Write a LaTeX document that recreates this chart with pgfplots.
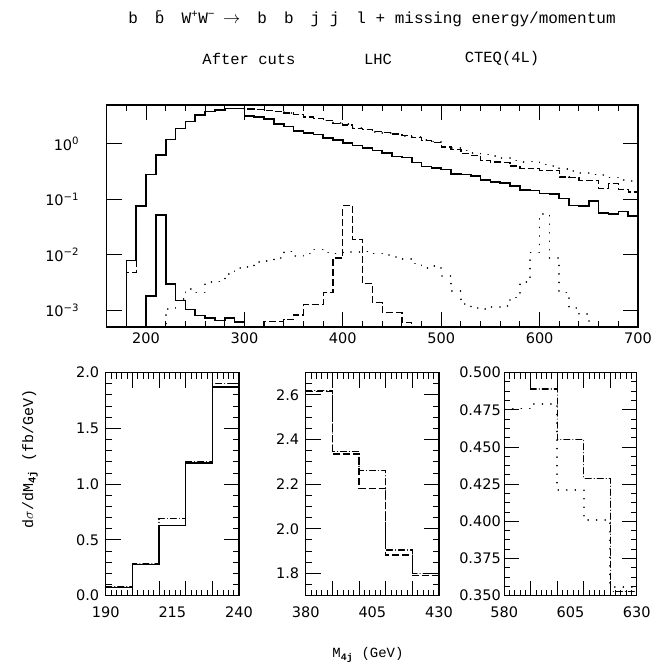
\documentclass[border=0pt]{standalone}
\usepackage{fontspec}
\setmainfont{Liberation Serif}
\newfontfamily\ticksf{DejaVu Sans}
\newfontfamily\ttf{Liberation Mono}
\usepackage{pgfplots}
\pgfplotsset{compat=1.18}
\pgfplotsset{
  hist/.style={axis line style={line width=1.3pt}, scale only axis, anchor=south west,
    /pgf/number format/assume math mode=true,
    tick style={black, line width=1pt},
    ticklabel style={font=\ticksf\fontsize{14.5}{16}\selectfont},
    major tick length=15pt, minor tick length=6pt, clip=true},
  sol/.style={const plot, black, line width=1.6pt, no marks},
  dsh/.style={const plot, black, line width=1.3pt, no marks, dash pattern=on 7pt off 3pt},
  dot/.style={const plot, black, line width=1.7pt, no marks, dash pattern=on 0.01pt off 8.5pt, line cap=round},
  dd/.style={const plot, black, line width=1.2pt, no marks, dash pattern=on 6pt off 3pt on 0.01pt off 3pt, line cap=round},
}
\begin{document}
\begin{tikzpicture}
\path[use as bounding box] (0pt,0pt) rectangle (671pt,671pt);
% ---------------- top panel
\begin{axis}[hist, at={(106.7pt,344pt)}, width=531.3pt, height=222pt,
  xmin=160, xmax=700, ymode=log, ymin=5e-4, ymax=5,
  xtick={200,300,400,500,600,700}, minor xtick={160,180,...,700},
  xticklabels={200,300,400,500,600,700},
  xticklabel style={yshift=-2pt},
  ytick={1e-3,1e-2,1e-1,1},
  yticklabels={10\textsuperscript{−3},10\textsuperscript{−2},10\textsuperscript{−1},10\textsuperscript{0}},
  yticklabel style={xshift=-24pt},
  log basis y=10]
\addplot[sol] coordinates {(180,1e-6)(180,0.0079)(190,0.075)(200,0.28)(210,0.63)(220,1.19)(230,1.87)(240,2.54)(250,3.34)(260,3.8)(270,4.1)(280,4.3)(290,4.35)(300,3.2)(310,3.05)(320,2.8)(330,2.3)(340,2.04)(350,1.68)(360,1.55)(370,1.48)(380,1.26)(390,1.18)(400,1.03)(410,0.93)(420,0.85)(430,0.76)(440,0.68)(450,0.59)(460,0.565)(470,0.457)(480,0.39)(490,0.37)(500,0.343)(510,0.285)(520,0.28)(530,0.26)(540,0.22)(550,0.205)(560,0.195)(570,0.172)(580,0.148)(590,0.144)(600,0.128)(610,0.126)(620,0.104)(630,0.077)(640,0.076)(650,0.094)(660,0.056)(670,0.054)(680,0.06)(690,0.05)(700,0.05)};
\addplot[dsh] coordinates {(180,1e-6)(180,0.0048)(190,0.075)(200,0.28)(210,0.63)(220,1.19)(230,1.87)(240,2.54)(250,3.34)(260,3.8)(270,4.1)(280,4.3)(290,4.35)(300,4.25)(310,4.15)(320,4.0)(330,3.8)(340,3.6)(350,3.35)(360,3.05)(370,2.85)(380,2.615)(390,2.335)(400,2.18)(410,1.883)(420,1.79)(430,1.65)(440,1.58)(450,1.5)(460,1.4)(470,1.3)(480,1.15)(490,1.07)(500,0.87)(510,0.8)(520,0.66)(530,0.62)(540,0.5)(550,0.47)(560,0.46)(570,0.4)(580,0.357)(590,0.36)(600,0.333)(610,0.333)(620,0.253)(630,0.25)(640,0.22)(650,0.22)(660,0.157)(670,0.192)(680,0.15)(690,0.136)(700,0.136)};
\addplot[dot] coordinates {(300,4.25)(310,4.15)(320,4.0)(330,3.8)(340,3.6)(350,3.35)(360,3.05)(370,2.85)(380,2.62)(390,2.345)(400,2.26)(410,1.905)(420,1.80)(430,1.65)(440,1.58)(450,1.5)(460,1.4)(470,1.32)(480,1.18)(490,1.1)(500,0.88)(510,0.83)(520,0.76)(530,0.68)(540,0.64)(550,0.6)(560,0.55)(570,0.5)(580,0.476)(590,0.479)(600,0.421)(610,0.401)(620,0.356)(630,0.32)(640,0.3)(650,0.28)(660,0.27)(670,0.246)(680,0.22)(690,0.215)(700,0.215)};
\addplot[sol] coordinates {(200,1e-6)(200,0.0018)(210,0.052)(220,0.003)(230,0.0015)(240,0.00104)(250,0.0008)(260,0.00072)(270,0.00066)(280,0.00072)(290,0.00062)(300,1e-6)};
\addplot[dsh] coordinates {(320,1e-6)(320,0.00062)(340,0.00068)(350,0.00082)(360,0.00128)(380,0.0021)(390,0.0087)(400,0.077)(410,0.0186)(420,0.003)(430,0.00137)(440,0.00091)(460,0.0006)(470,1e-6)};
\addplot[dot] coordinates {(220,1e-6)(220,0.00107)(230,0.0016)(240,0.0024)(250,0.0021)(260,0.0032)(270,0.0033)(280,0.0045)(290,0.0057)(300,0.006)(310,0.0075)(320,0.0078)(330,0.0088)(340,0.0115)(350,0.0095)(360,0.0105)(370,0.0125)(380,0.011)(390,0.0105)(400,0.0112)(410,0.0112)(420,0.0115)(430,0.0105)(440,0.0098)(450,0.0092)(460,0.0085)(470,0.007)(480,0.0058)(490,0.0062)(500,0.0042)(510,0.0022)(520,0.0013)(530,0.0011)(540,0.00105)(550,0.00115)(560,0.0012)(570,0.0017)(580,0.0032)(590,0.011)(600,0.055)(610,0.0087)(620,0.0021)(630,0.0011)(640,0.00085)(650,1e-6)};
\end{axis}
% ---------------- bottom panel 1
\begin{axis}[hist, at={(105.7pt,75.3pt)}, width=133.3pt, height=223pt,
  xmin=190, xmax=240, ymin=0, ymax=2,
  xtick={200,210,220,230}, xticklabels={}, minor xtick={190,192,...,240},
  extra x ticks={190,215,240}, extra x tick labels={190,215,240},
  extra x tick style={major tick length=0pt},
  xticklabel style={yshift=-8pt}, yticklabel style={xshift=-3pt},
  ytick={0,0.5,1,1.5,2}, minor ytick={0,0.1,...,2},
  yticklabel style={/pgf/number format/.cd, fixed, fixed zerofill, precision=1}]
\addplot[sol] coordinates {(190,0.075)(200,0.28)(210,0.63)(220,1.19)(230,1.87)(240,1.87)};
\addplot[dd] coordinates {(190,0.085)(200,0.29)(210,0.69)(220,1.2)(230,1.9)(240,1.9)};
\end{axis}
% ---------------- bottom panel 2
\begin{axis}[hist, at={(305.7pt,75.3pt)}, width=133.3pt, height=223pt,
  xmin=380, xmax=430, ymin=1.7, ymax=2.7,
  xtick={390,400,410,420}, xticklabels={}, minor xtick={380,382,...,430},
  extra x ticks={380,405,430}, extra x tick labels={380,405,430},
  extra x tick style={major tick length=0pt},
  xticklabel style={yshift=-8pt}, yticklabel style={xshift=-3pt},
  ytick={1.8,2.0,2.2,2.4,2.6}, minor ytick={1.7,1.75,...,2.7},
  yticklabel style={/pgf/number format/.cd, fixed, fixed zerofill, precision=1}]
\addplot[dsh] coordinates {(380,2.615)(390,2.335)(400,2.18)(410,1.883)(420,1.79)(430,1.79)};
\addplot[dd] coordinates {(380,2.62)(390,2.345)(400,2.26)(410,1.905)(420,1.80)(430,1.80)};
\end{axis}
% ---------------- bottom panel 3
\begin{axis}[hist, at={(504.3pt,75.3pt)}, width=132.4pt, height=223pt,
  xmin=580, xmax=630, ymin=0.35, ymax=0.5,
  xtick={590,600,610,620}, xticklabels={}, minor xtick={580,582,...,630},
  extra x ticks={580,605,630}, extra x tick labels={580,605,630},
  extra x tick style={major tick length=0pt},
  xticklabel style={yshift=-8pt},
  ytick={0.35,0.375,0.4,0.425,0.45,0.475,0.5}, minor ytick={0.35,0.35625,...,0.5},
  yticklabel style={/pgf/number format/.cd, fixed, fixed zerofill, precision=3}]
\addplot[dot] coordinates {(580,0.476)(590,0.479)(600,0.421)(610,0.401)(620,0.356)(630,0.356)};
\addplot[dd] coordinates {(580,0.52)(590,0.489)(600,0.455)(610,0.429)(620,0.353)(630,0.353)};
\end{axis}
% ---------------- texts
\node[font=\ttf\fontsize{16}{18}\selectfont] at (372pt,652pt)
  {b\hspace{17pt}\={b}\hspace{17pt}W\textsuperscript{+}W\textsuperscript{−}\hspace{8pt}$\rightarrow$\hspace{17pt}b\hspace{17pt}b\hspace{17pt}j j\hspace{17pt}l + missing energy/momentum};
\node[font=\ttf\fontsize{15.5}{17}\selectfont] at (249pt,612pt) {After cuts};
\node[font=\ttf\fontsize{15.5}{17}\selectfont] at (378pt,612pt) {LHC};
\node[font=\ttf\fontsize{15.5}{17}\selectfont] at (502pt,612pt) {CTEQ(4L)};
\node[font=\ttf\fontsize{15}{17}\selectfont, rotate=90] at (30pt,212pt) {d$\sigma$/dM\textsubscript{\textbf{4j}} (fb/GeV)};
\node[font=\ttf\fontsize{14}{16}\selectfont] at (368pt,16pt) {M\textsubscript{\textbf{4j}} (GeV)};
\end{tikzpicture}
\end{document}
